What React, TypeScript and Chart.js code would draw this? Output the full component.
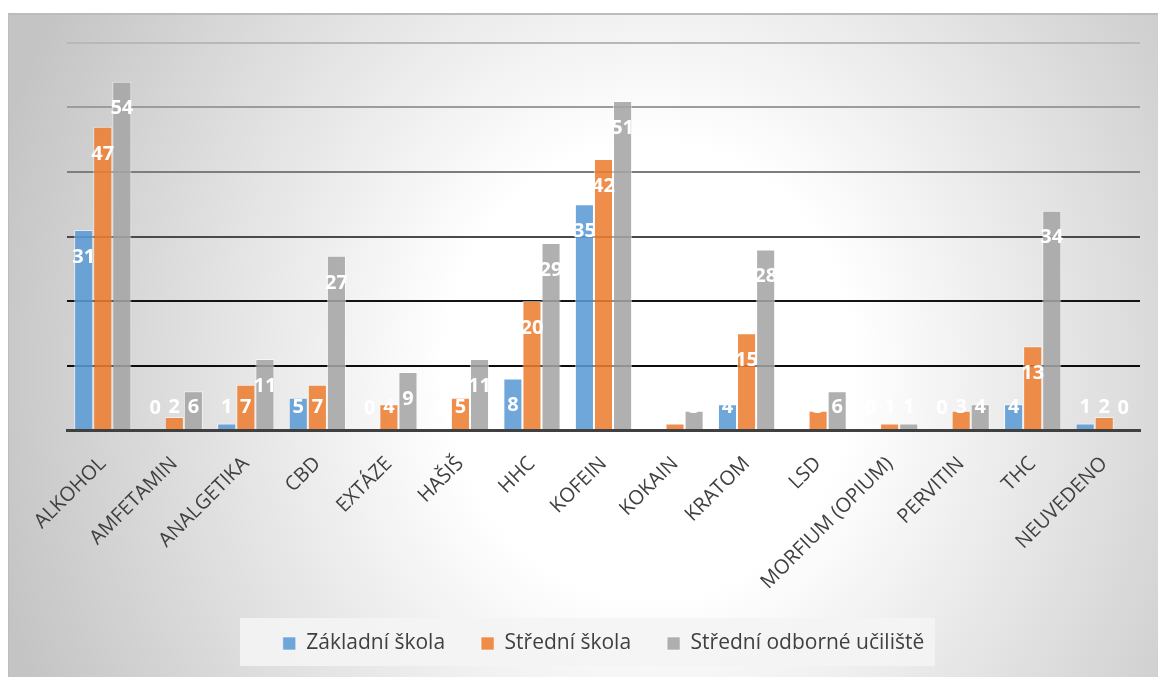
import React, { useEffect, useRef } from "react";
import { Chart, registerables } from "chart.js";

Chart.register(...registerables);

const categories = [
  "ALKOHOL", "AMFETAMIN", "ANALGETIKA", "CBD", "EXTÁZE", "HAŠIŠ", "HHC", "KOFEIN",
  "KOKAIN", "KRATOM", "LSD", "MORFIUM (OPIUM)", "PERVITIN", "THC", "NEUVEDENO",
];
const zakladniSkola = [31, 0, 1, 5, 0, 0, 8, 35, 0, 4, 0, 0, 0, 4, 1];
const stredniSkola = [47, 2, 7, 7, 4, 5, 20, 42, 1, 15, 3, 1, 3, 13, 2];
const stredniOdborne = [54, 6, 11, 27, 9, 11, 29, 51, 3, 28, 6, 1, 4, 34, 0];
const seriesNames = ["Základní škola", "Střední škola", "Střední odborné učiliště"];
const yTicks = [0, 10, 20, 30, 40, 50, 60];

const gridColors: Record<number, string> = {
  0: "rgba(0,0,0,0)",
  10: "#0d0d0d",
  20: "#141414",
  30: "#4a4a4a",
  40: "#7d7d7d",
  50: "#9c9c9c",
  60: "#b8b8b8",
};

const dataLabels = {
  id: "dataLabels",
  afterDatasetsDraw(chart: any) {
    const ctx = chart.ctx;
    ctx.save();
    ctx.font = 'bold 20px "Open Sans"';
    ctx.fillStyle = "#ffffff";
    ctx.textAlign = "center";
    ctx.textBaseline = "middle";
    chart.data.datasets.forEach((ds: any, i: number) => {
      const meta = chart.getDatasetMeta(i);
      meta.data.forEach((bar: any, j: number) => {
        const { x, y, base } = bar.getProps(["x", "y", "base"], true);
        const cy = Math.min(y + 27, base - 22);
        ctx.fillText(String(ds.data[j]), x, cy);
      });
    });
    ctx.restore();
  },
};

const legendBg = {
  id: "legendBg",
  beforeDraw(chart: any) {
    const lg = chart.legend;
    if (!lg) return;
    const ctx = chart.ctx;
    const cy = lg.top + lg.options.labels.padding + 10;
    ctx.save();
    ctx.fillStyle = "rgba(244,244,244,0.9)";
    ctx.fillRect(232, cy - 25, 695, 48);
    ctx.restore();
  },
};

export default function App() {
  const ref = useRef<HTMLCanvasElement | null>(null);
  useEffect(() => {
    if (!ref.current) return;
    const chart = new Chart(ref.current, {
      type: "bar",
      data: {
        labels: categories,
        datasets: [
          {
            label: seriesNames[0],
            data: zakladniSkola,
            backgroundColor: "rgba(91,155,213,0.88)",
            borderColor: "rgba(255,255,255,0.55)",
            borderWidth: 1,
          },
          {
            label: seriesNames[1],
            data: stredniSkola,
            backgroundColor: "rgba(237,125,49,0.88)",
            borderColor: "rgba(255,255,255,0.55)",
            borderWidth: 1,
          },
          {
            label: seriesNames[2],
            data: stredniOdborne,
            backgroundColor: "rgba(165,165,165,0.88)",
            borderColor: "rgba(255,255,255,0.55)",
            borderWidth: 1,
          },
        ],
      },
      options: {
        responsive: false,
        animation: false,
        devicePixelRatio: 1,
        layout: { padding: { left: 59, right: 18, top: 30, bottom: 13 } },
        datasets: { bar: { categoryPercentage: 0.8, barPercentage: 1.0 } },
        plugins: {
          tooltip: { enabled: false },
          legend: {
            position: "bottom",
            labels: {
              boxWidth: 13,
              boxHeight: 13,
              padding: 36,
              color: "#404040",
              font: { family: "'Open Sans'", size: 21 },
            },
          },
        },
        scales: {
          x: {
            grid: { display: false },
            border: { display: true, color: "#404040", width: 3 },
            ticks: {
              color: "#404040",
              font: { family: "'Open Sans'", size: 20 },
              minRotation: 45,
              maxRotation: 45,
              padding: 14,
              autoSkip: false,
            },
            afterFit: (s: any) => {
              s.height = 167;
            },
          },
          y: {
            min: 0,
            max: 60,
            afterBuildTicks: (s: any) => {
              s.ticks = yTicks.map((v) => ({ value: v }));
            },
            ticks: { display: false },
            border: { display: false },
            grid: {
              drawTicks: false,
              lineWidth: 2,
              color: (c: any) => gridColors[c.tick ? c.tick.value : 0] || "#000",
            },
            afterFit: (s: any) => {
              s.width = 0;
            },
          },
        },
      },
      plugins: [legendBg, dataLabels],
    });
    return () => chart.destroy();
  }, []);

  return (
    <div
      style={{
        position: "fixed",
        left: 8,
        top: 13,
        width: 1150,
        height: 664,
        background:
          "radial-gradient(ellipse 680px 760px at 642px 357px, #ffffff 0%, #ffffff 30%, #c4c4c4 100%)",
        boxShadow: "inset 1px 2px 0 #bcbcbc",
      }}
    >
      <canvas ref={ref} width={1150} height={664} style={{ display: "block" }} />
    </div>
  );
}
